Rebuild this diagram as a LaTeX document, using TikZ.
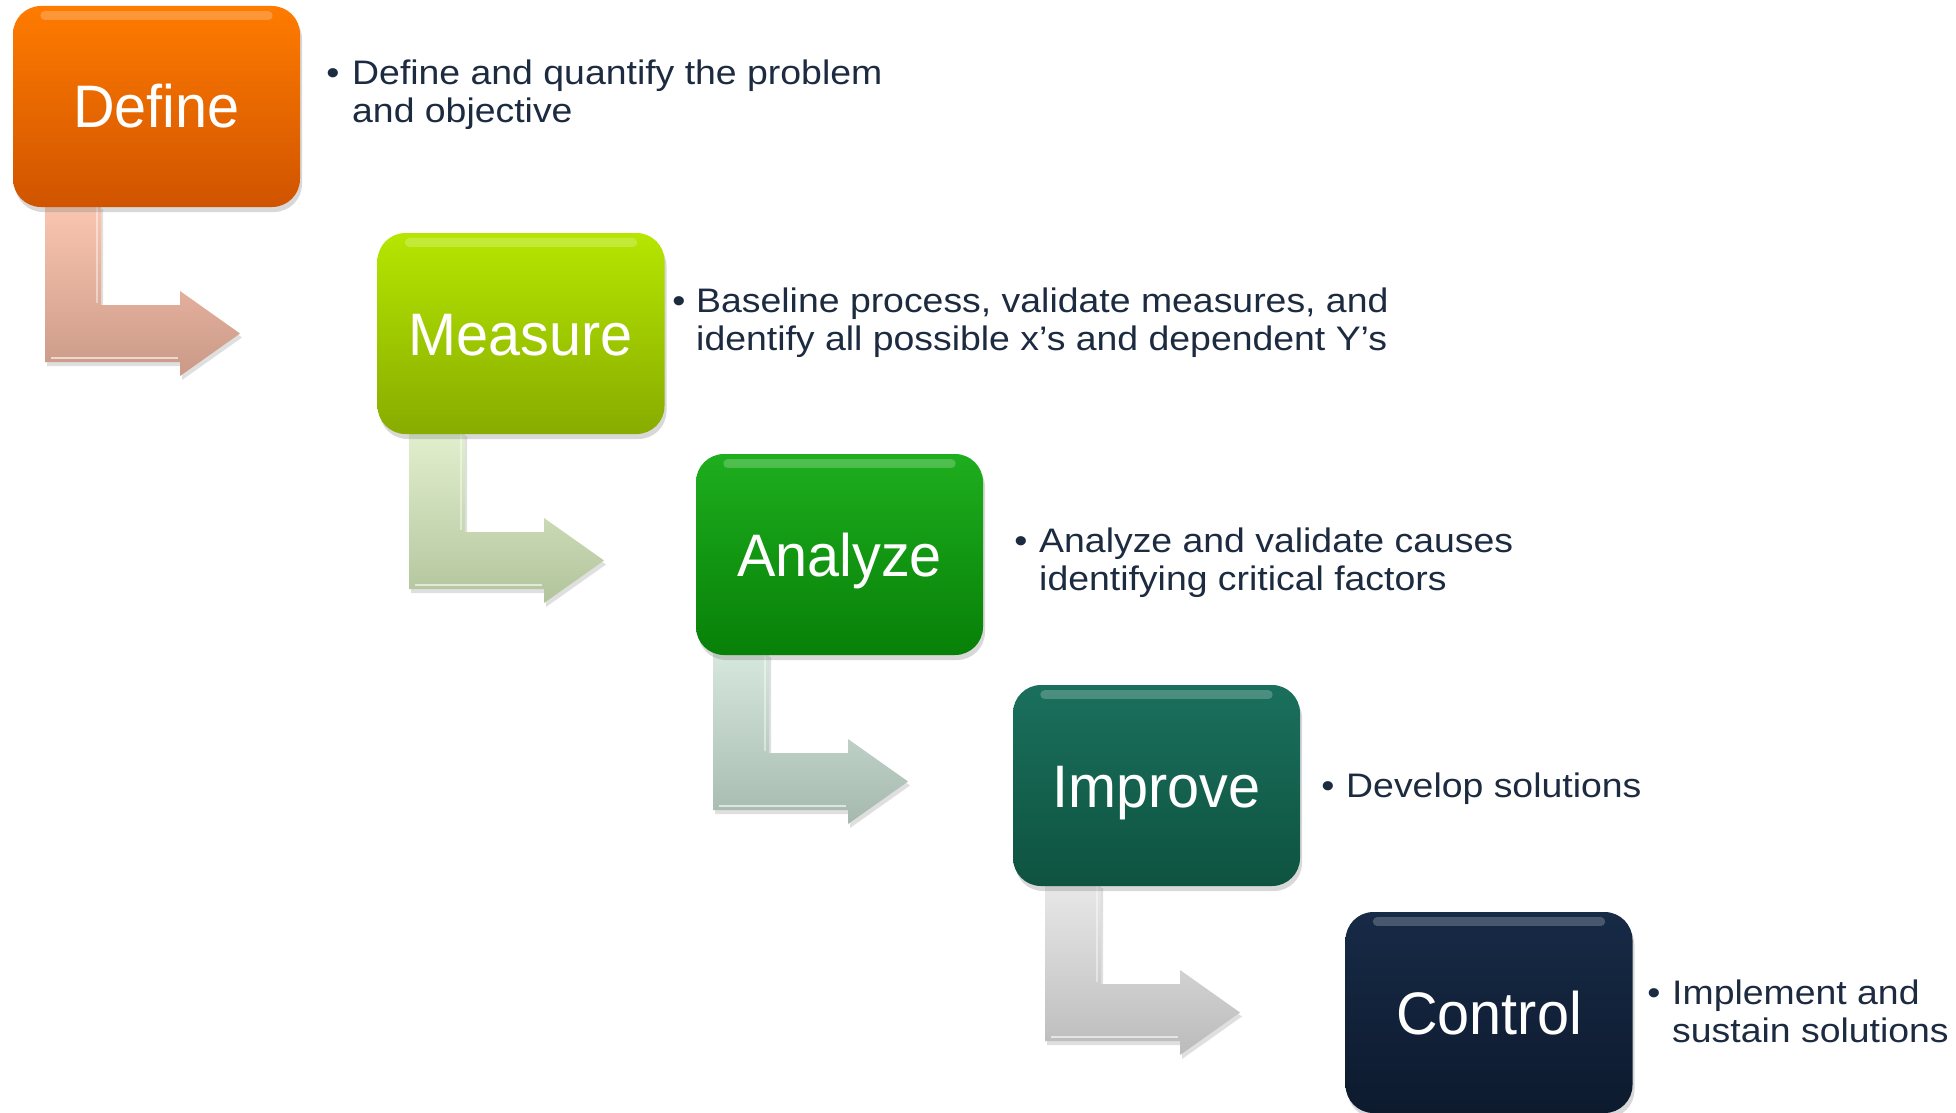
\documentclass[tikz,border=0pt]{standalone}
\usepackage{fontspec}
\setmainfont{Liberation Sans}
\newfontfamily\labelfont[FakeStretch=0.96]{Liberation Sans}
\newfontfamily\descfont[FakeStretch=1.1]{Liberation Sans}
\usetikzlibrary{shadows,calc}

\definecolor{defTop}{HTML}{FF7B00}
\definecolor{defBot}{HTML}{D05400}
\definecolor{meaTop}{HTML}{B6E600}
\definecolor{meaBot}{HTML}{88AC00}
\definecolor{anaTop}{HTML}{1EAE1E}
\definecolor{anaBot}{HTML}{078007}
\definecolor{impTop}{HTML}{1A705D}
\definecolor{impBot}{HTML}{0E5340}
\definecolor{conTop}{HTML}{172A46}
\definecolor{conBot}{HTML}{0D1A2E}
\definecolor{aDefTop}{HTML}{FAC6B0}
\definecolor{aDefBot}{HTML}{CA9987}
\definecolor{aMeaTop}{HTML}{E2EFCE}
\definecolor{aMeaBot}{HTML}{B2C49C}
\definecolor{aAnaTop}{HTML}{D6E8DE}
\definecolor{aAnaBot}{HTML}{A6B9AE}
\definecolor{aImpTop}{HTML}{E8E8E8}
\definecolor{aImpBot}{HTML}{BBBBBB}
\definecolor{descC}{HTML}{1C2B40}

\tikzset{
  stepbox/.style={rounded corners=28pt, minimum width=287pt, minimum height=201pt,
    inner sep=0pt, text=white, font=\labelfont\fontsize{60}{66}\selectfont,
    text height=43pt, text depth=0pt,
    drop shadow={opacity=0.3, shadow xshift=2pt, shadow yshift=-5pt}},
  desc/.style={text=descC, font=\descfont\fontsize{34}{38}\selectfont, anchor=base west, inner sep=0pt},
  bul/.style={text=descC, font=\descfont\fontsize{34}{38}\selectfont, anchor=base, inner sep=0pt},
  gloss/.style={white, opacity=0.22, line width=9pt, line cap=round},
  larrowshade/.style={drop shadow={opacity=0.25, shadow xshift=2pt, shadow yshift=-4pt}}
}

% #1 start coordinate (top-left of stem), #2 top colour, #3 bottom colour
\newcommand{\lArrow}[3]{%
  \shade[top color=#2, bottom color=#3, larrowshade]
    (#1) -- ++(56,0) -- ++(0,100) -- ++(79,0) -- ++(0,-14) -- ++(60,42.5)
    -- ++(-60,42.5) -- ++(0,-14) -- ++(-135,0) -- cycle;
  \draw[white, opacity=0.6, line width=2pt] ($(#1)+(6,153)$) -- ($(#1)+(133,153)$);
  \draw[white, opacity=0.45, line width=2pt] ($(#1)+(52,2)$) -- ($(#1)+(52,98)$);
}

\begin{document}
\begin{tikzpicture}[x=1pt, y=-1pt]
\fill[white] (0,0) rectangle (1956,1113);
\useasboundingbox (0,0) rectangle (1956,1113);

% anchor coordinates of the L-arrows
\coordinate (a1) at (45,205);
\coordinate (a2) at (409,432);
\coordinate (a3) at (713,653);
\coordinate (a4) at (1045,884);

\lArrow{a1}{aDefTop}{aDefBot}
\lArrow{a2}{aMeaTop}{aMeaBot}
\lArrow{a3}{aAnaTop}{aAnaBot}
\lArrow{a4}{aImpTop}{aImpBot}

% step boxes
\node[stepbox, top color=defTop, bottom color=defBot] (define)  at (156.5,106.5) {Define};
\node[stepbox, top color=meaTop, bottom color=meaBot] (measure) at (521,333.5)   {Measure};
\node[stepbox, top color=anaTop, bottom color=anaBot] (analyze) at (839.5,554.5) {Analyze};
\node[stepbox, top color=impTop, bottom color=impBot] (improve) at (1156.5,785.5) {Improve};
\node[stepbox, top color=conTop, bottom color=conBot] (control) at (1489,1012.5) {Control};

\foreach \b in {define,measure,analyze,improve,control}{
  \draw[gloss] ([xshift=32pt,yshift=-10pt]\b.north west) -- ([xshift=-32pt,yshift=-10pt]\b.north east);
}

% descriptions
\node[bul]  (defineB) at (333,85) {•};
\node[desc] (defineT) at (352,85) {\begin{tabular}[t]{@{}l@{}}Define and quantify the problem\\and objective\end{tabular}};

\node[bul]  (measureB) at (679,312) {•};
\node[desc] (measureT) at (696,312) {\begin{tabular}[t]{@{}l@{}}Baseline process, validate measures, and\\identify all possible x’s and dependent Y’s\end{tabular}};

\node[bul]  (analyzeB) at (1021,552) {•};
\node[desc] (analyzeT) at (1039,552) {\begin{tabular}[t]{@{}l@{}}Analyze and validate causes\\identifying critical factors\end{tabular}};

\node[bul]  (improveB) at (1328,797) {•};
\node[desc] (improveT) at (1346,797) {Develop solutions};

\node[bul]  (controlB) at (1654,1004) {•};
\node[desc] (controlT) at (1672,1004) {\begin{tabular}[t]{@{}l@{}}Implement and\\sustain solutions\end{tabular}};
\end{tikzpicture}
\end{document}
